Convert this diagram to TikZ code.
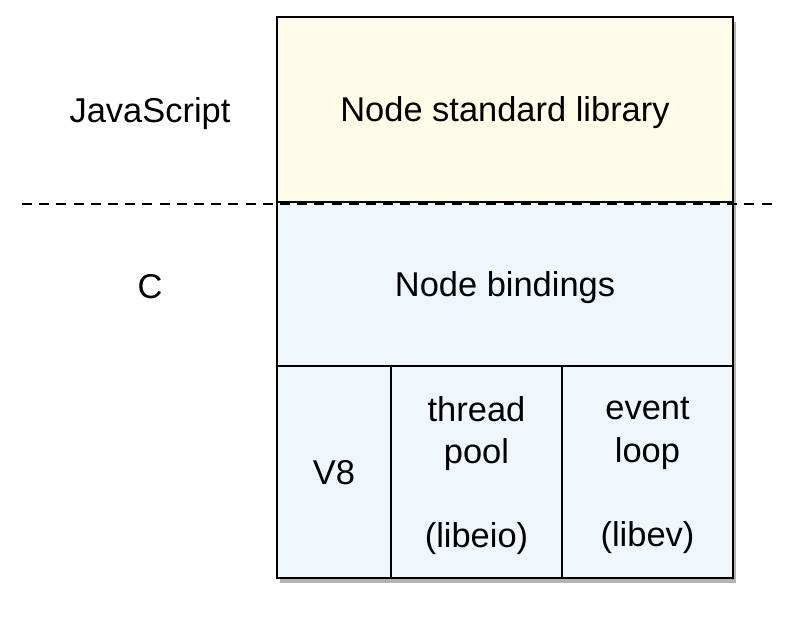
\documentclass[tikz,border=0pt]{standalone}
\usepackage{fontspec}
\setmainfont{Liberation Sans}
\usetikzlibrary{positioning,shadows}

\definecolor{libfill}{HTML}{FEFBE8}
\definecolor{bindfill}{HTML}{EFF7FD}

\begin{document}
\begin{tikzpicture}[
layer/.style={
  draw,
  line width=1.4pt,
  outer sep=0pt,
  inner sep=0pt,
  align=center,
  text depth=0pt,
  font=\fontsize{24.5}{30}\selectfont,
  drop shadow={shadow xshift=0.07cm, shadow yshift=-0.12cm, opacity=0.6}},
cell/.style={
  layer,
  fill=bindfill,
  minimum height=5.3cm},
tag/.style={
  text depth=0pt,
  font=\fontsize{24.5}{30}\selectfont},
divider/.style={
  line width=1.2pt,
  dash pattern=on 0.25cm off 0.18cm}
]
\useasboundingbox (0,0) rectangle (20,15.925);
\node[layer, fill=libfill, minimum width=11.4cm, minimum height=4.625cm]
  (lib) at (12.625,13.1875) {Node standard library};
\node[layer, fill=bindfill, minimum width=11.4cm, minimum height=4.1cm,
  below=0cm of lib] (bind) {Node bindings};
\node[cell, minimum width=2.85cm, below right=0cm and 0cm of bind.south west]
  (v8) {V8};
\node[cell, minimum width=4.275cm, right=0cm of v8]
  (pool) {thread\\pool\\[30pt](libeio)};
\node[cell, minimum width=4.275cm, right=0cm of pool]
  (loop) {event\\loop\\[30pt](libev)};
% side labels
\node[tag] (js) at (3.75,13.175) {JavaScript};
\node[tag] (c) at ([yshift=-0.05cm]js |- bind) {C};
% boundary between the two languages
\coordinate (dl) at (0.55,10.825);
\coordinate (dr) at (19.4,10.825);
\draw[divider] (dl) -- (dr);
\end{tikzpicture}
\end{document}
